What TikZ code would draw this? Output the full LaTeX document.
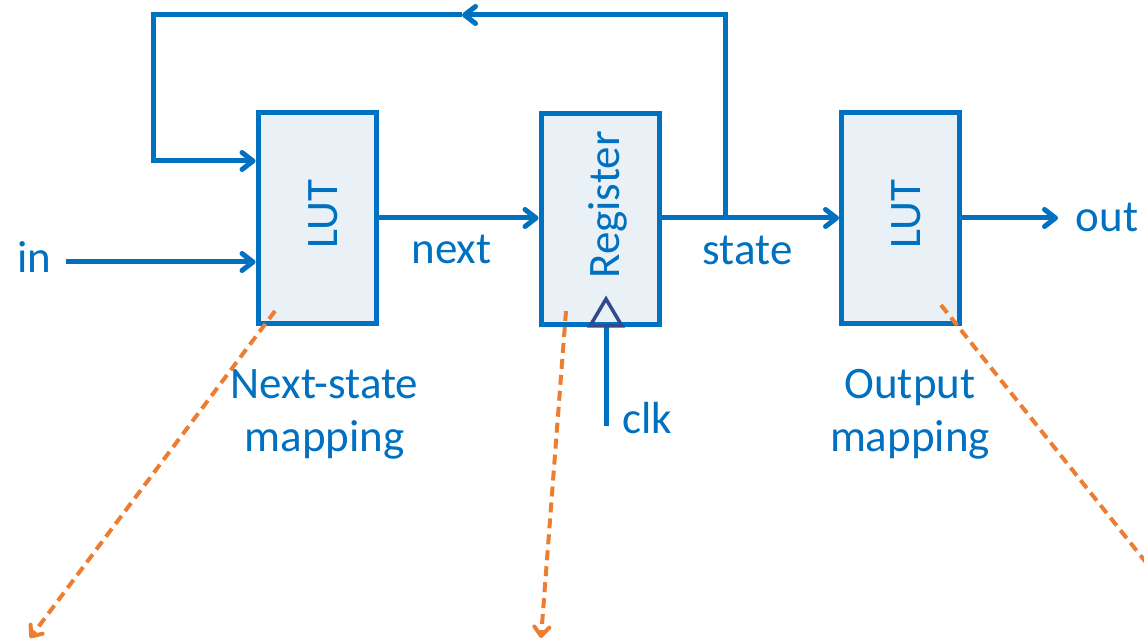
\documentclass[tikz,border=0pt]{standalone}
\usepackage{fontspec}
\setmainfont{Carlito}
\usetikzlibrary{arrows.meta}
\definecolor{wireblue}{HTML}{0070C0}
\definecolor{boxfill}{HTML}{EAF1F6}
\definecolor{clknavy}{HTML}{2E4B8E}
\definecolor{hintorange}{HTML}{ED7D31}
\tikzset{
  blockbox/.style={draw=wireblue, fill=boxfill, line width=5pt, minimum width=118pt,
    minimum height=211pt, inner sep=0pt},
  wire/.style={draw=wireblue, line width=5pt},
  wirearrow/.style={wire, -{Straight Barb[length=11pt,width=17pt,round]}},
  lbl/.style={text=wireblue, font=\fontsize{45}{53}\selectfont, inner sep=0pt},
  vlbl/.style={lbl, rotate=90, anchor=base},
  hint/.style={draw=hintorange, line width=4pt, dash pattern=on 10pt off 6pt,
    -{Straight Barb[length=9pt,width=15pt,round]}},
}
\begin{document}
\begin{tikzpicture}[x=1pt, y=-1pt]
  \useasboundingbox (0,0) rectangle (1144,644);

  % the three blocks
  \node[blockbox] (lut1) at (317,218.5) {};
  \node[blockbox] (reg)  at (600,219) {};
  \node[blockbox] (lut2) at (900.5,218.5) {};

  % block titles, set vertically
  \node[vlbl] (lut1t) at (337,214) {LUT};
  \node[vlbl] (regt)  at (619,205) {Register};
  \node[vlbl] (lut2t) at (920.5,214) {LUT};

  % clock input of the register
  \coordinate (clkB) at (606,426);
  \coordinate (clkT) at (606,326);
  \draw[wire] (clkB) -- (clkT);
  \draw[draw=clknavy, line width=3.5pt, line join=miter]
    (590,326) -- (606,299) -- (622,326) -- cycle;
  \node[lbl, anchor=base] (clk) at (647,434) {clk};

  % data path
  \coordinate (inS) at (66,262);
  \draw[wirearrow] (inS) -- (inS -| lut1.west);
  \node[lbl, anchor=base] (in) at (34,273) {in};

  \draw[wirearrow] (lut1.east |- 0,218) -- (reg.west |- 0,218);
  \node[lbl, anchor=base] (next) at (451.5,264) {next};

  \draw[wirearrow] (reg.east |- 0,218) -- (lut2.west |- 0,218);
  \node[lbl, anchor=base] (state) at (747.5,265) {state};

  \coordinate (outE) at (1058,218);
  \draw[wirearrow] (lut2.east |- outE) -- (outE);
  \node[lbl, anchor=base] (out) at (1107,232) {out};

  % state feedback into the next-state LUT
  \coordinate (tap)   at (725,218);
  \coordinate (tapT)  at (725,15);
  \coordinate (fbMid) at (462,15);
  \coordinate (fbL)   at (153.5,15);
  \coordinate (fbIn)  at (153.5,161);
  \draw[wirearrow, line join=miter] (tap) -- (tapT) -- (fbMid);
  \draw[wirearrow, line join=miter] (fbMid) -- (fbL) -- (fbIn) -- (fbIn -| lut1.west);

  % captions (base anchor sits on the last line)
  \node[lbl, align=center, anchor=base] (nsmap) at (324.5,451) {Next-state\\mapping};
  \node[lbl, align=center, anchor=base] (outmap) at (910,451) {Output\\mapping};

  % dashed pointers leading out of the blocks
  \coordinate (h1s) at (275,311);
  \coordinate (h1e) at (30,638);
  \coordinate (h2s) at (566,311);
  \coordinate (h2e) at (541,638);
  \coordinate (h3s) at (941,305);
  \coordinate (h3e) at (1164,585);
  \draw[hint] (h1s) -- (h1e);
  \draw[hint] (h2s) -- (h2e);
  \begin{scope}
    \clip (0,0) rectangle (1144,644);
    \draw[hint, -] (h3s) -- (h3e);
  \end{scope}
\end{tikzpicture}
\end{document}
